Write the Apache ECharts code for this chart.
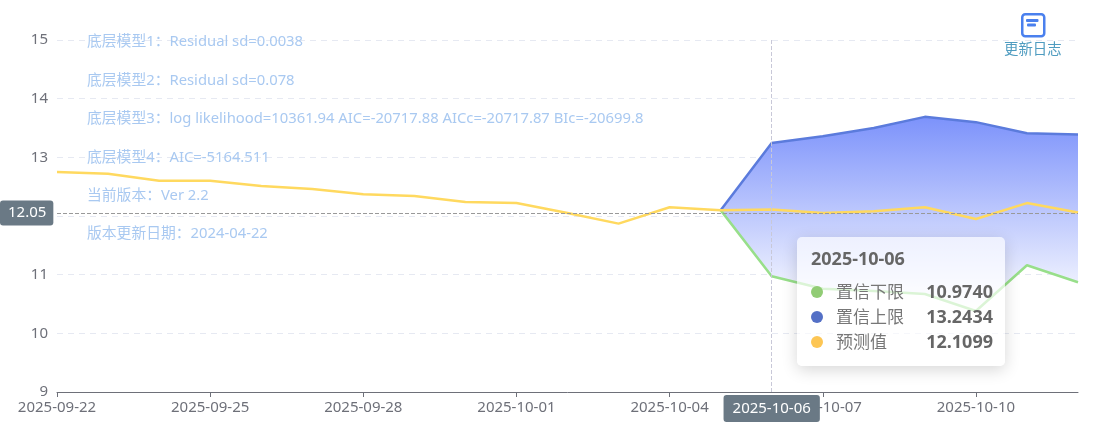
<!DOCTYPE html>
<html>
<head>
<meta charset="utf-8">
<title>预测图</title>
<script src="https://cdn.jsdelivr.net/npm/echarts@6/dist/echarts.min.js"></script>
<style>
html,body{margin:0;padding:0;background:#fff;}
#forecast-chart{width:1094px;height:438px;}
</style>
</head>
<body>
<div id="forecast-chart"></div>
<script>
//数据
var dates = ['2025-09-22','2025-09-23','2025-09-24','2025-09-25','2025-09-26','2025-09-27','2025-09-28',
    '2025-09-29','2025-09-30','2025-10-01','2025-10-02','2025-10-03','2025-10-04','2025-10-05',
    '2025-10-06','2025-10-07','2025-10-08','2025-10-09','2025-10-10','2025-10-11','2025-10-12'];
var forecast = [12.75,12.72,12.60,12.60,12.51,12.46,12.37,12.34,12.24,12.22,12.05,11.87,12.15,12.10,
    12.1099,12.05,12.08,12.15,11.95,12.22,12.06];
var upper = [null,null,null,null,null,null,null,null,null,null,null,null,null,12.10,
    13.2434,13.36,13.50,13.69,13.60,13.41,13.39];
var lower = [null,null,null,null,null,null,null,null,null,null,null,null,null,12.10,
    10.9740,10.76,10.72,10.67,10.38,11.16,10.87];
var notes = ['底层模型1：Residual sd=0.0038','底层模型2：Residual sd=0.078',
    '底层模型3：log likelihood=10361.94 AIC=-20717.88 AICc=-20717.87 BIc=-20699.8',
    '底层模型4：AIC=-5164.511','当前版本：Ver 2.2','版本更新日期：2024-04-22'];
var hoverDate = '2025-10-06';
var hoverValue = 12.05;

var fontName = '"Noto Sans","Noto Sans CJK SC",sans-serif';
//上下限之间的带宽，用于堆叠
var band = upper.map(function(v,i){ return v===null ? null : v-lower[i]; });

function tipRow(color,name,value){
    return '<div style="display:flex;justify-content:space-between;height:25px;line-height:25px;">'
        +'<span style="font-size:17px;color:#777;"><i style="display:inline-block;width:12px;height:12px;border-radius:50%;margin-right:13px;background:'+color+';"></i>'+name+'</span>'
        +'<b style="font-size:18px;font-weight:700;">'+value+'</b></div>';
}

var chart = echarts.init(document.getElementById('forecast-chart'));
chart.setOption({
    animation:false,
    textStyle:{fontFamily:fontName},
    grid:{left:57,right:16,top:40,bottom:46},
    title:{
        text:notes.join('\n'),
        left:87,
        top:23,
        padding:0,
        textStyle:{color:'#a9c9f1',fontSize:14.8,fontWeight:'normal',lineHeight:38.4,fontFamily:fontName}
    },
    graphic:[
        {type:'rect',left:1021,top:13,shape:{width:22,height:22,r:3},style:{fill:'#fff',stroke:'#4a80ee',lineWidth:2.5}},
        {type:'rect',left:1026,top:19,shape:{width:12.5,height:3,r:1},style:{fill:'#4a80ee'}},
        {type:'rect',left:1027,top:23.5,shape:{width:9,height:3,r:1},style:{fill:'#4a80ee'}},
        {type:'text',left:1004,top:43,style:{text:'更新日志',fill:'#4f9cc0',fontSize:14.4,fontFamily:fontName}}
    ],
    tooltip:{
        trigger:'axis',
        alwaysShowContent:true,
        position:[797,237],
        padding:[8,12,11,14],
        backgroundColor:'rgba(255,255,255,0.65)',
        borderWidth:0,
        axisPointer:{type:'cross'},
        extraCssText:'width:182px;height:110px;box-sizing:content-box;border-radius:5px;box-shadow:0 4px 16px rgba(0,0,0,0.16);',
        formatter:function(params){
            var i = params[0].dataIndex;
            return '<div style="font-family:\'Noto Sans\',\'Noto Sans CJK SC\';font-weight:700;font-size:18px;line-height:26px;color:#666;margin-bottom:8px;">'+dates[i]+'</div>'
                +'<div style="font-family:\'Noto Sans\',\'Noto Sans CJK SC\';color:#666;">'
                +tipRow('#91cc75','置信下限',lower[i].toFixed(4))
                +tipRow('#5470c6','置信上限',upper[i].toFixed(4))
                +tipRow('#fdc654','预测值',forecast[i].toFixed(4))
                +'</div>';
        }
    },
    xAxis:{
        type:'category',
        boundaryGap:false,
        data:dates,
        axisLine:{lineStyle:{color:'#6e7079'}},
        axisTick:{interval:2,length:5},
        axisLabel:{interval:2,color:'#6e7079',fontSize:15,margin:8},
        axisPointer:{
            type:'line',
            snap:true,
            lineStyle:{color:'#c8c8d8',type:'dashed',width:1},
            label:{show:true,backgroundColor:'#6a7985',color:'#fff',fontSize:15,padding:[6,9,6,9],borderRadius:3,margin:3}
        }
    },
    yAxis:{
        type:'value',
        min:9,
        max:15,
        interval:1,
        axisLabel:{color:'#6e7079',fontSize:15,margin:9},
        splitLine:{lineStyle:{color:'#e6e9f2',type:[6,5]}},
        axisPointer:{
            type:'line',
            snap:false,
            lineStyle:{color:'#999',type:'dashed',width:1},
            label:{show:true,precision:2,backgroundColor:'#6a7985',color:'#fff',fontSize:15,padding:[5,7,5,8],borderRadius:3,margin:4}
        }
    },
    series:[
        {
            name:'置信下限',
            type:'line',
            stack:'range',
            symbol:'none',
            data:lower,
            lineStyle:{color:'#98df8a',width:2.5},
            areaStyle:{color:'rgba(0,0,0,0)'},
            emphasis:{disabled:true},
            z:3
        },
        {
            name:'置信上限',
            type:'line',
            stack:'range',
            symbol:'none',
            data:band,
            lineStyle:{color:'#5b7bdc',width:2.5},
            areaStyle:{opacity:1,color:new echarts.graphic.LinearGradient(0,0,0,1,[
                {offset:0,color:'#7c92fb'},
                {offset:1,color:'#ffffff'}
            ])},
            emphasis:{disabled:true},
            z:2
        },
        {
            name:'预测值',
            type:'line',
            symbol:'none',
            data:forecast,
            lineStyle:{color:'#ffd95f',width:2.5},
            emphasis:{disabled:true},
            z:4
        }
    ]
});

//悬停状态：定位到指定日期和数值
var hoverPoint = chart.convertToPixel({gridIndex:0},[hoverDate,hoverValue]);
chart.dispatchAction({type:'showTip',x:hoverPoint[0],y:hoverPoint[1]});
</script>
</body>
</html>
